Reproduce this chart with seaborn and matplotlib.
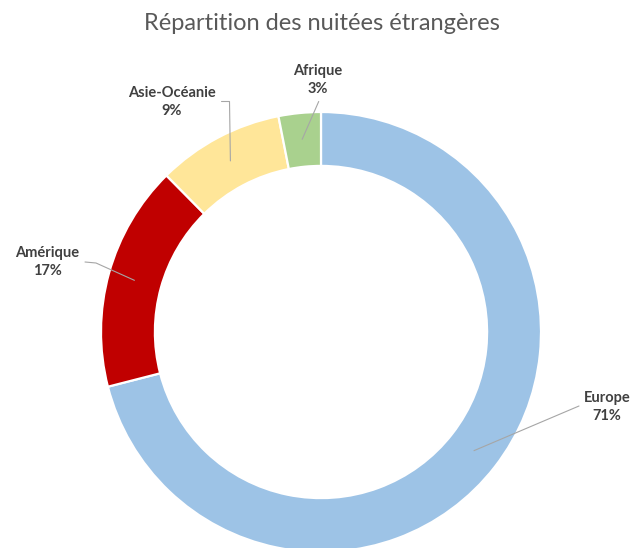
import numpy as np
import matplotlib
matplotlib.use("Agg")
import matplotlib.pyplot as plt
import seaborn as sns

# Data
categories = ["Europe", "Amérique", "Asie-Océanie", "Afrique"]
values = [71.0, 16.6, 9.3, 3.1]
colors = ["#9DC3E6", "#C00000", "#FFE699", "#A9D18E"]
title = "Répartition des nuitées étrangères"

sns.set_theme(style="white")
plt.rcParams["font.family"] = ["Lato", "DejaVu Sans"]

W, H = 634, 548
CX, CY, R = 321, 332, 220  # pixel layout of the donut

fig = plt.figure(figsize=(W / 100, H / 100), dpi=100)
ax = fig.add_axes([0, 0, 1, 1])


def px(x, y):
    return ((x - CX) / R, (CY - y) / R)


wedges, _ = ax.pie(values, colors=colors, startangle=90, counterclock=False,
                   radius=1.0,
                   wedgeprops=dict(width=0.245, edgecolor="white", linewidth=1.6))
ax.set_xlim(-CX / R, (W - CX) / R)
ax.set_ylim(-(H - CY) / R, CY / R)
ax.set_aspect("equal")
ax.axis("off")

# label layout (pixel positions of text centres and leader line paths)
label_pos = {"Europe": (607, 407), "Amérique": (47, 262),
             "Asie-Océanie": (172, 102), "Afrique": (318, 80)}
leader = {"Europe": [(579, 406)],
          "Amérique": [(85, 262), (96, 263)],
          "Asie-Océanie": [(221.5, 101.5), (229.5, 101.5)],
          "Afrique": [(318.7, 101.5)]}

total = sum(values)
cum = 0
for cat, v in zip(categories, values):
    mid = cum + v / 2
    cum += v
    ang = np.deg2rad(90 - 360 * mid / total)
    r = 0.88
    ex, ey = r * np.cos(ang), r * np.sin(ang)
    pts = [px(*p) for p in leader[cat]] + [(ex, ey)]
    xs, ys = zip(*pts)
    ax.plot(xs, ys, color="#A6A6A6", lw=0.8, zorder=3)
    tx, ty = px(*label_pos[cat])
    ax.text(tx, ty, f"{cat}\n{round(v):.0f}%", ha="center", va="center",
            fontsize=10.5, fontweight="bold", color="#404040",
            linespacing=1.3, zorder=4)

fig.text(322 / W, 1 - 23 / H, title, ha="center", va="center",
         fontsize=17, color="#595959")

fig.savefig("out.png", dpi=100)
